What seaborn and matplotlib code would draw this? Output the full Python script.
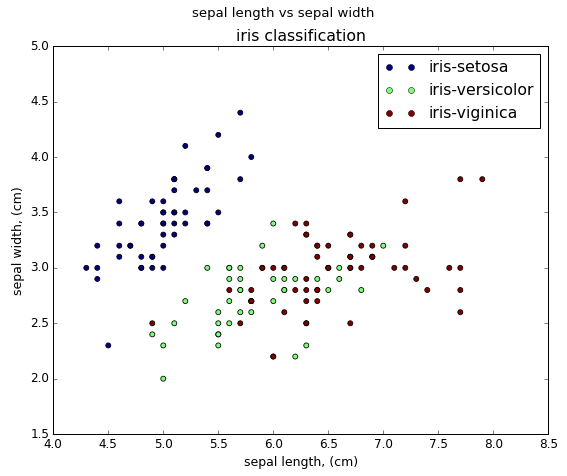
import numpy as np
import pandas as pd
import matplotlib
matplotlib.use("Agg")
import matplotlib.pyplot as plt
from matplotlib.lines import Line2D
import seaborn as sns

plt.style.use("classic")

# iris sepal measurements (cm)
setosa_len = [5.1, 4.9, 4.7, 4.6, 5.0, 5.4, 4.6, 5.0, 4.4, 4.9, 5.4, 4.8, 4.8, 4.3, 5.8, 5.7, 5.4,
              5.1, 5.7, 5.1, 5.4, 5.1, 4.6, 5.1, 4.8, 5.0, 5.0, 5.2, 5.2, 4.7, 4.8, 5.4, 5.2, 5.5,
              4.9, 5.0, 5.5, 4.9, 4.4, 5.1, 5.0, 4.5, 4.4, 5.0, 5.1, 4.8, 5.1, 4.6, 5.3, 5.0]
setosa_wid = [3.5, 3.0, 3.2, 3.1, 3.6, 3.9, 3.4, 3.4, 2.9, 3.1, 3.7, 3.4, 3.0, 3.0, 4.0, 4.4, 3.9,
              3.5, 3.8, 3.8, 3.4, 3.7, 3.6, 3.3, 3.4, 3.0, 3.4, 3.5, 3.4, 3.2, 3.1, 3.4, 4.1, 4.2,
              3.1, 3.2, 3.5, 3.6, 3.0, 3.4, 3.5, 2.3, 3.2, 3.5, 3.8, 3.0, 3.8, 3.2, 3.7, 3.3]
versicolor_len = [7.0, 6.4, 6.9, 5.5, 6.5, 5.7, 6.3, 4.9, 6.6, 5.2, 5.0, 5.9, 6.0, 6.1, 5.6, 6.7, 5.6,
                  5.8, 6.2, 5.6, 5.9, 6.1, 6.3, 6.1, 6.4, 6.6, 6.8, 6.7, 6.0, 5.7, 5.5, 5.5, 5.8, 6.0,
                  5.4, 6.0, 6.7, 6.3, 5.6, 5.5, 5.5, 6.1, 5.8, 5.0, 5.6, 5.7, 5.7, 6.2, 5.1, 5.7]
versicolor_wid = [3.2, 3.2, 3.1, 2.3, 2.8, 2.8, 3.3, 2.4, 2.9, 2.7, 2.0, 3.0, 2.2, 2.9, 2.9, 3.1, 3.0,
                  2.7, 2.2, 2.5, 3.2, 2.8, 2.5, 2.8, 2.9, 3.0, 2.8, 3.0, 2.9, 2.6, 2.4, 2.4, 2.7, 2.7,
                  3.0, 3.4, 3.1, 2.3, 3.0, 2.5, 2.6, 3.0, 2.6, 2.3, 2.7, 3.0, 2.9, 2.9, 2.5, 2.8]
virginica_len = [6.3, 5.8, 7.1, 6.3, 6.5, 7.6, 4.9, 7.3, 6.7, 7.2, 6.5, 6.4, 6.8, 5.7, 5.8, 6.4, 6.5,
                 7.7, 7.7, 6.0, 6.9, 5.6, 7.7, 6.3, 6.7, 7.2, 6.2, 6.1, 6.4, 7.2, 7.4, 7.9, 6.4, 6.3,
                 6.1, 7.7, 6.3, 6.4, 6.0, 6.9, 6.7, 6.9, 5.8, 6.8, 6.7, 6.7, 6.3, 6.5, 6.2, 5.9]
virginica_wid = [3.3, 2.7, 3.0, 2.9, 3.0, 3.0, 2.5, 2.9, 2.5, 3.6, 3.2, 2.7, 3.0, 2.5, 2.8, 3.2, 3.0,
                 3.8, 2.6, 2.2, 3.2, 2.8, 2.8, 2.7, 3.3, 3.2, 2.8, 3.0, 2.8, 3.0, 2.8, 3.8, 2.8, 2.8,
                 2.6, 3.0, 3.4, 3.1, 3.0, 3.1, 3.1, 3.1, 2.7, 3.2, 3.3, 3.0, 2.5, 3.0, 3.4, 3.0]

species = ["iris-setosa", "iris-versicolor", "iris-viginica"]
colors = ["#000080", "#7dff7a", "#800000"]

df = pd.DataFrame({
    "length": setosa_len + versicolor_len + virginica_len,
    "width": setosa_wid + versicolor_wid + virginica_wid,
    "species": [species[0]] * 50 + [species[1]] * 50 + [species[2]] * 50,
})

fig, ax = plt.subplots(figsize=(567 / 72, 476 / 72), dpi=72)
fig.subplots_adjust(left=0.094, right=0.967, bottom=0.088, top=0.903)

sns.scatterplot(
    data=df, x="length", y="width", hue="species", hue_order=species,
    palette=dict(zip(species, colors)), s=25, edgecolor="black", linewidth=0.8,
    legend=False, ax=ax,
)

handles = [
    Line2D([0], [0], marker="o", linestyle="", color=c, markeredgecolor="black", markersize=6)
    for c in colors
]
ax.legend(handles, species, loc="upper right", numpoints=2, fontsize=15.8)

ax.set_xlim(4.0, 8.5)
ax.set_ylim(1.5, 5.0)
ax.set_xlabel("sepal length, (cm)", fontsize=12.5)
ax.set_ylabel("sepal width, (cm)", fontsize=12.5)
ax.set_title("iris classification", fontsize=15.8)
fig.suptitle("sepal length vs sepal width", fontsize=13.3, y=0.985)

fig.savefig("out.png", dpi=72)
